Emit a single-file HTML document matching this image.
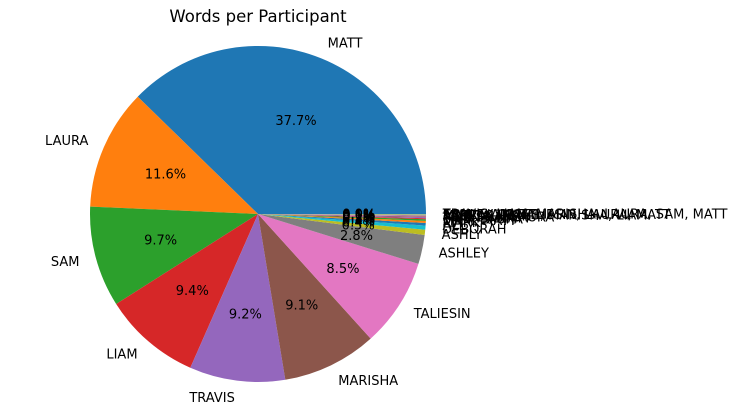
<!DOCTYPE html>
<html><head><meta charset="utf-8"><style>
body{margin:0;background:#fff;}
svg{display:block;font-family:"DejaVu Sans","Liberation Sans",sans-serif;}
</style></head><body>
<svg id="chart" width="731" height="415">
<text x="258" y="22" text-anchor="middle" font-size="16.5">Words per Participant</text>
</svg>
<script>
const labels=["MATT","LAURA","SAM","LIAM","TRAVIS","MARISHA","TALIESIN","ASHLEY","ASHLY","DEBORAH","ALL","MARK","LIAM, MATT","SAM, LAURA","TRAVIS, MATT","MARISHA, LAURA","ALL, TALIESIN","MATT, SAM","LAURA, TRAVIS, MARISHA, LIAM","ASHLEY, MATT","SAM, LIAM, TALIESIN, LAURA, MATT","TRAVIS, LIAM, MARISHA, LAURA, SAM, MATT"];
const values=[37.7,11.6,9.7,9.4,9.2,9.1,8.5,2.8,0.5,0.4,0.25,0.2,0.15,0.1,0.1,0.08,0.06,0.05,0.04,0.03,0.02,0.02];
const colors=["#1f77b4","#ff7f0e","#2ca02c","#d62728","#9467bd","#8c564b","#e377c2","#7f7f7f","#bcbd22","#17becf"];
const svg=document.getElementById('chart');
const NS="http://www.w3.org/2000/svg";
const cx=258,cy=214,r=168;
const total=values.reduce((a,b)=>a+b,0);
function pt(a,rr){return [cx+rr*Math.cos(a),cy-rr*Math.sin(a)];}
let start=0;
values.forEach((v,i)=>{
  const sweep=v/total*2*Math.PI, end=start+sweep;
  const p0=pt(start,r),p1=pt(end,r);
  const path=document.createElementNS(NS,'path');
  path.setAttribute('d',`M${cx},${cy}L${p0[0]},${p0[1]}A${r},${r} 0 ${sweep>Math.PI?1:0} 0 ${p1[0]},${p1[1]}Z`);
  path.setAttribute('fill',colors[i%10]);
  
  
  svg.appendChild(path);
  start=end;
});
start=0;
values.forEach((v,i)=>{
  const sweep=v/total*2*Math.PI, mid=start+sweep/2; start+=sweep;
  const lp=pt(mid,r*1.1);
  const t=document.createElementNS(NS,'text');
  t.setAttribute('x',lp[0]);t.setAttribute('y',lp[1]+4.5);
  t.setAttribute('font-size','13');
  t.setAttribute('text-anchor',Math.cos(mid)>=0?'start':'end');
  t.textContent=labels[i];
  
  
  svg.appendChild(t);
  const pp=pt(mid,r*0.6);
  const p=document.createElementNS(NS,'text');
  p.setAttribute('x',pp[0]);p.setAttribute('y',pp[1]+4.5);
  p.setAttribute('font-size','13');p.setAttribute('text-anchor','middle');
  p.textContent=(v/total*100).toFixed(1)+'%';
  
  
  svg.appendChild(p);
});
</script>
</body></html>
